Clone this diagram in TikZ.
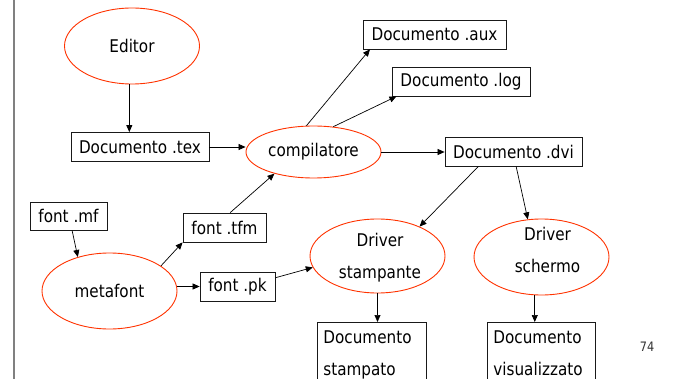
\documentclass[tikz,border=0pt]{standalone}
\usepackage{fontspec}
\setmainfont[FakeStretch=0.87]{DejaVu Sans}
\usetikzlibrary{arrows.meta,shapes.geometric}
\definecolor{ellred}{HTML}{FF3300}
\definecolor{pagenum}{HTML}{333333}
\begin{document}
\begin{tikzpicture}[x=1pt,y=-1pt,
  every node/.style={font=\fontsize{17.5}{32}\selectfont},
  proc/.style={ellipse, draw=ellred, line width=0.9pt, inner sep=0pt, align=center},
  proctext/.style={inner sep=0pt, align=center, anchor=north},
  filebox/.style={draw=black!90, line width=0.8pt, rectangle, inner sep=0pt, minimum height=29pt},
  outbox/.style={draw=black!90, line width=0.8pt, rectangle, anchor=north west, align=left, inner xsep=6pt, inner ysep=8.5pt},
  arr/.style={-{Triangle[length=7pt,width=6pt]}, line width=0.7pt}]
\useasboundingbox (0,0) rectangle (695,379);
\clip (0,0) rectangle (695,379);
\fill[white] (0,0) rectangle (695,379);
\draw[gray, line width=1.2pt] (14,0) -- (14,379);

% processes
\node[proc, minimum width=135pt, minimum height=76pt] (edit) at (132,46) {Editor};
\node[proc, minimum width=135pt, minimum height=52pt] (comp) at (313.5,152) {compilatore};
\node[proc, minimum width=135pt, minimum height=76pt] (meta) at (109.5,291) {metafont};
\node[proc, minimum width=135pt, minimum height=74pt] (stamp) at (377.5,256) {};
\node[proctext] (stamptxt) at (380,232.7) {Driver\\stampante};
\node[proc, minimum width=135pt, minimum height=76pt] (scher) at (541.5,257) {};
\node[proctext] (schertxt) at (547.5,226.7) {Driver\\schermo};

% files
\node[filebox, minimum width=138pt] (tex) at (140,147) {Documento .tex};
\node[filebox, minimum width=143pt] (aux) at (434.5,34.5) {Documento .aux};
\node[filebox, minimum width=138pt] (log) at (461,81.5) {Documento .log};
\node[filebox, minimum width=137pt] (dvi) at (513.5,151.5) {Documento .dvi};
\node[filebox, minimum width=77pt, minimum height=28pt] (mf) at (68.5,216) {font .mf};
\node[filebox, minimum width=83pt] (tfm) at (224.5,227.5) {font .tfm};
\node[filebox, minimum width=75pt] (pk) at (237.5,286.5) {font .pk};
\node[outbox, text width=97pt] (stampato) at (317,322) {Documento\\stampato};
\node[outbox, text width=96pt] (vis) at (487,322) {Documento\\visualizzato};

% page number
\node[font=\fontsize{13}{15}\selectfont, text=pagenum, inner sep=0pt] (pnum) at (647,347) {74};

% connectors
\draw[arr] (edit.266) -- (edit.266 |- tex.north);
\draw[arr] (tex.east) -- (tex.east -| comp.west);
\draw[arr] (comp.105) -- (aux.193);
\draw[arr] (comp.52) -- (log.193);
\draw[arr] (comp.east) -- (comp.east -| dvi.west);
\draw[arr] (mf.284) -- (meta.133);
\draw[arr] (meta.26) -- (tfm.south west);
\draw[arr] (pk.west -| meta.east) -- (pk.west);
\draw[arr] (tfm.69) -- (comp.209);
\draw[arr] (pk.13) -- (stamp.190);
\draw[arr] (dvi.203) -- (stamp.35);
\draw[arr] (dvi.280) -- (scher.110);
\draw[arr] (stamp.south) -- (stamp.south |- stampato.north);
\draw[arr] (scher.260) -- (scher.260 |- vis.north);
\end{tikzpicture}
\end{document}
